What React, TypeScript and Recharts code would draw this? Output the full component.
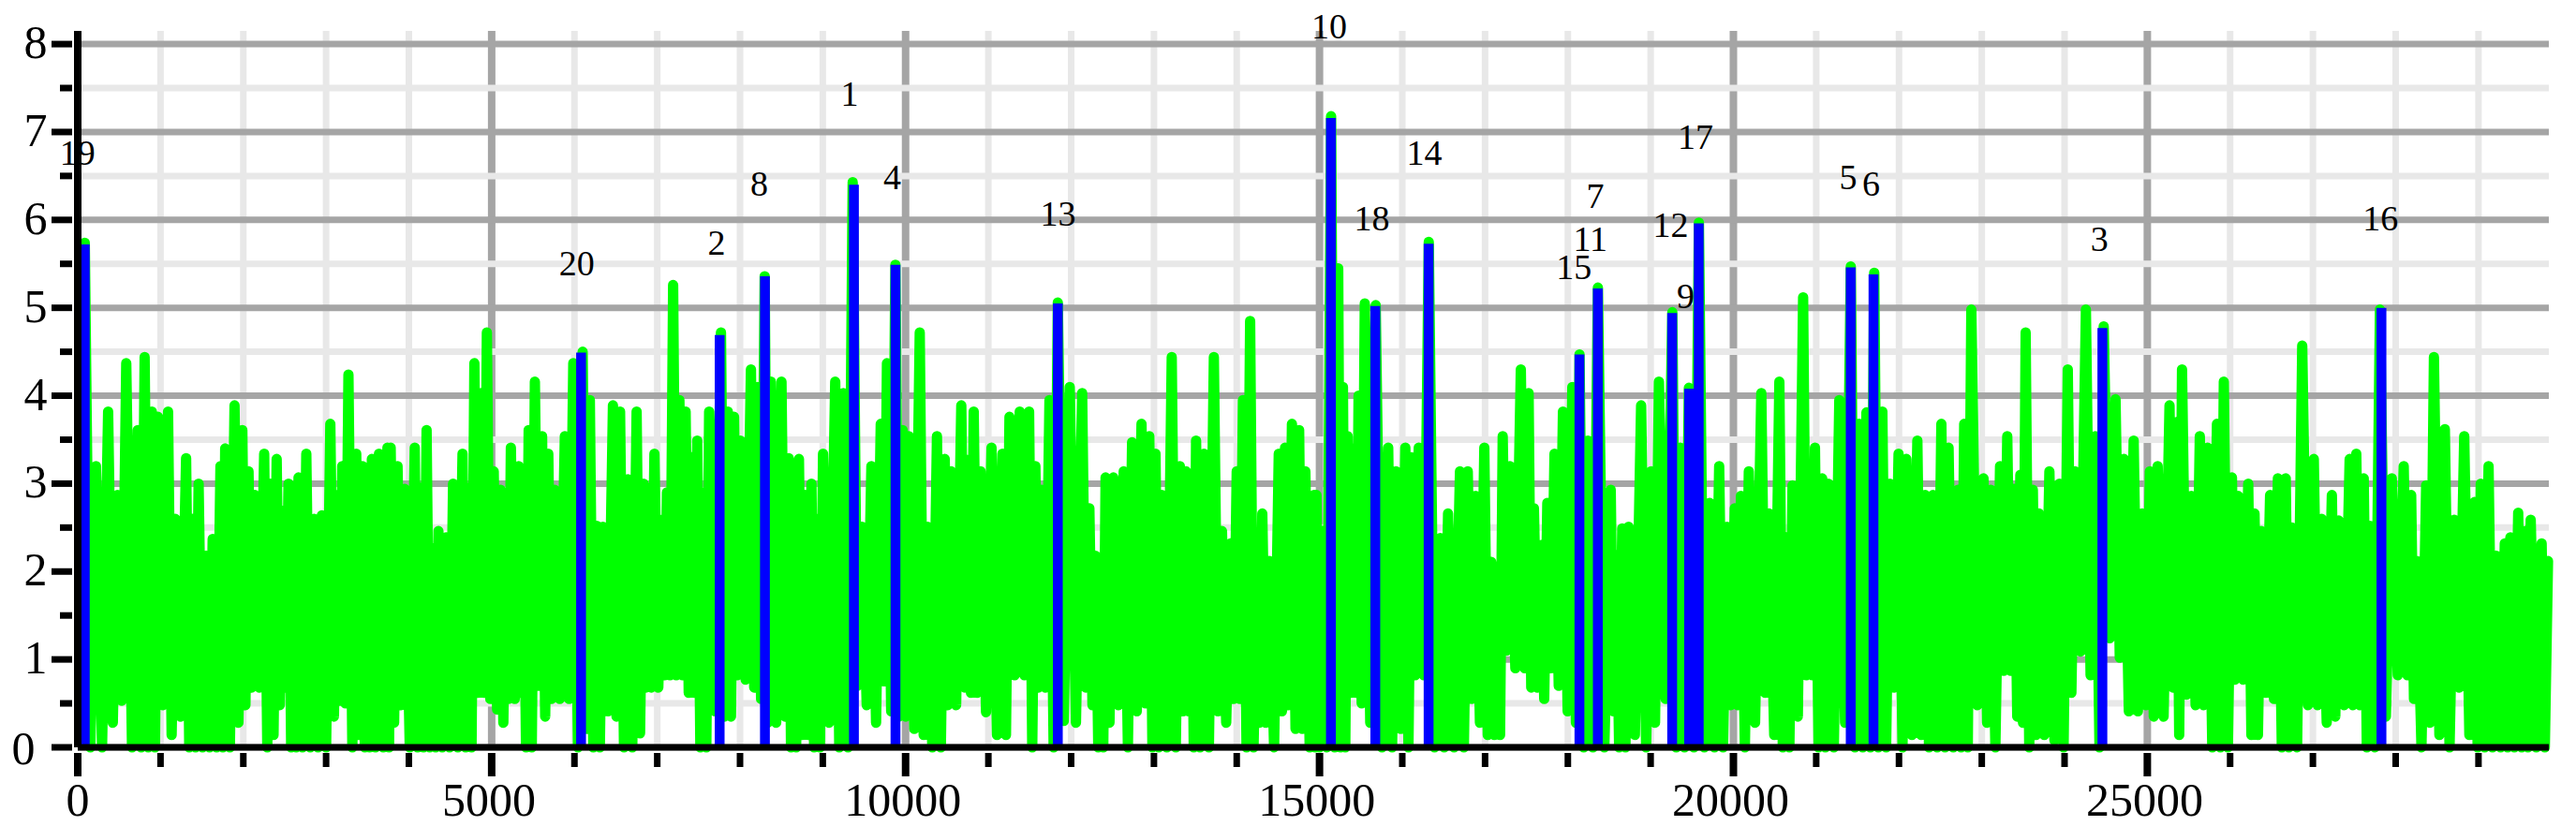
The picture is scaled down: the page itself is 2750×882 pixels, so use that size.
import { ComposedChart, CartesianGrid, Line, ReferenceDot, XAxis, YAxis } from 'recharts';

// green trace: each slot is a peak and the trough after it
const greenX = [
  85, 220, 367, 480, 586, 725, 808, 895, 970, 1091, 1177, 1309, 1385, 1460, 1554, 1630, 1724, 1781, 1894, 1988, 2063, 2139, 2252, 2327, 2403, 2478, 2546, 2610, 2667, 2761, 2855, 2949, 3051, 3138, 3195, 3270, 3364, 3440, 3496, 3553, 3639, 3741,
  3780, 3863, 3950, 4071, 4139, 4214, 4289, 4357, 4448, 4534, 4648, 4723, 4791, 4874, 4942, 5025, 5107, 5175, 5232, 5326, 5383, 5447, 5522, 5609, 5684, 5760, 5884, 5986, 6099, 6186, 6269, 6344, 6465, 6551, 6646, 6751, 6834, 6891, 6966, 7060, 7117, 7192, 7268, 7343, 7418,
  7483, 7559, 7627, 7770, 7853, 7928, 8004, 8132, 8211, 8298, 8373, 8501, 8588, 8644, 8712, 8788, 8863, 8927, 9003, 9150, 9248, 9361, 9474, 9587, 9700, 9775, 9877, 9964, 10039, 10171, 10266, 10379, 10473, 10548, 10673, 10756, 10823, 10906, 11038, 11170,
  11255, 11379, 11492, 11568, 11643, 11738, 11839, 11983, 12133, 12220, 12295, 12360, 12416, 12510, 12635, 12736, 12850, 12944, 13019, 13095, 13215, 13313, 13389, 13453, 13509, 13604, 13724, 13822, 13924, 14000, 14075, 14162, 14245, 14309, 14395, 14508, 14584, 14667, 14754, 14829, 14934,
  14963, 15038, 15140, 15226, 15283, 15340, 15415, 15472, 15547, 15679, 15830, 15924, 16037, 16112, 16199, 16320, 16459, 16553, 16697, 16791, 16885, 16991, 17074, 17149, 17213, 17300, 17432, 17526, 17590, 17677, 17752, 17839, 17941, 18054, 18141, 18242, 18363, 18518, 18582, 18657,
  18734, 18885, 19006, 19100, 19262, 19356, 19462, 19583, 19714, 19828, 19922, 20016, 20091, 20186, 20337, 20431, 20555, 20638, 20714, 20842, 20921, 20985, 21072, 21147, 21279, 21418, 21517, 21607, 21701, 21799, 21890, 21995, 22090, 22222, 22316, 22410,
  22512, 22599, 22712, 22788, 22874, 23021, 23108, 23221, 23308, 23391, 23466, 23530, 23617, 23693, 23817, 23938, 24039, 24126, 24258, 24371, 24473, 24616, 24718, 24835, 24937, 25031, 25125, 25268, 25351, 25419, 25532, 25634, 25728, 25841, 25924, 26022, 26098,
  26219, 26295, 26377, 26483, 26577, 26672, 26747, 26871, 27011, 27105, 27229, 27312, 27444, 27524, 27614, 27689, 27810, 27953, 28097, 28187, 28255, 28368, 28462, 28594, 28707, 28828, 28952, 29028, 29122, 29216, 29318, 29386, 29480, 29563, 29631, 29763, 29840,
];

const greenTop = [
  5.74, 3.2, 3.82, 2.87, 4.37, 3.61, 4.44, 3.82, 3.76, 3.82, 2.6, 3.29, 2.6, 3.0, 2.18, 2.37, 3.2, 3.4, 3.89, 3.61, 3.14, 2.87, 3.34, 3.0, 3.28, 2.69, 3.0, 2.59, 3.07, 3.34, 2.6, 2.64, 3.68, 2.87, 3.2, 4.24, 3.34, 3.2, 2.67, 3.28, 3.34, 3.41,
  3.41, 3.2, 2.94, 3.41, 2.95, 3.61, 2.26, 2.46, 2.39, 3.0, 3.34, 2.95, 4.37, 4.03, 4.72, 3.14, 2.93, 2.8, 3.41, 3.2, 2.8, 3.61, 4.16, 3.54, 3.34, 2.93, 3.54, 4.37, 4.5, 3.95, 2.52, 2.51, 3.89, 3.82, 3.05, 3.82, 3.0, 2.95, 3.34, 2.59, 2.9, 5.26, 3.95, 3.82, 3.3,
  3.49, 2.9, 3.82, 4.72, 3.82, 3.76, 3.49, 4.3, 4.1, 5.36, 4.16, 4.16, 3.29, 3.1, 3.28, 2.87, 3.0, 2.6, 3.34, 4.16, 4.03, 6.43, 2.51, 3.2, 3.68, 4.37, 5.49, 3.61, 3.54, 4.72, 2.51, 3.54, 3.28, 3.14, 3.89, 3.27, 3.82, 3.14, 3.41, 3.34,
  3.76, 3.82, 3.82, 3.2, 2.93, 3.95, 5.06, 4.1, 4.03, 2.72, 2.18, 1.92, 3.07, 3.07, 3.14, 3.47, 3.68, 3.54, 3.34, 2.87, 4.44, 3.2, 3.14, 2.6, 3.49, 3.34, 4.44, 2.46, 2.32, 3.14, 3.95, 4.85, 2.19, 2.66, 2.12, 3.34, 3.41, 3.68, 3.61, 3.14, 2.87,
  2.87, 2.46, 7.18, 5.45, 4.1, 3.54, 3.4, 4.0, 5.05, 5.03, 3.41, 3.14, 3.41, 3.3, 3.41, 5.75, 2.38, 2.66, 3.14, 3.14, 2.86, 3.41, 2.11, 2.05, 3.54, 3.2, 4.3, 4.03, 2.72, 2.3, 2.78, 3.34, 3.82, 4.1, 4.47, 3.49, 5.23, 2.93, 2.19, 2.49,
  2.51, 3.89, 3.14, 4.16, 4.95, 3.41, 4.09, 5.97, 2.78, 3.2, 2.51, 2.72, 2.86, 3.14, 4.03, 2.66, 4.16, 2.39, 2.98, 5.12, 3.2, 3.41, 3.06, 3.0, 3.95, 5.47, 3.68, 3.81, 5.4, 3.82, 3.0, 3.34, 3.28, 3.49, 2.87, 2.87,
  3.68, 3.41, 2.93, 3.68, 4.98, 3.06, 2.93, 3.2, 3.54, 2.94, 3.1, 4.72, 2.93, 2.66, 3.14, 3.0, 4.3, 3.14, 4.98, 3.54, 4.79, 3.96, 3.28, 3.49, 2.66, 3.14, 3.2, 3.89, 3.7, 4.3, 2.86, 3.54, 3.41, 3.68, 4.16, 3.07, 2.86,
  3.0, 2.66, 2.46, 2.87, 3.06, 3.06, 2.5, 4.57, 3.28, 2.6, 2.87, 2.58, 3.28, 3.34, 3.06, 2.52, 4.98, 3.06, 3.2, 2.87, 2.12, 2.98, 4.44, 3.62, 2.59, 3.54, 2.79, 3.0, 3.2, 2.18, 2.32, 2.39, 2.67, 2.46, 2.59, 2.32, 2.12,
];

const greenLow = [
  0, 0, 0.28, 0.53, 0, 0, 0, 0, 0.48, 0.14, 0.35, 0, 0, 0, 0, 0, 0, 0, 0.28, 0.48, 0.68, 0.68, 0, 0.14, 0.48, 0.68, 0, 0, 0, 0, 0, 0, 0.35, 0.53, 0.5, 0, 0.14, 0, 0, 0, 0, 0,
  0.28, 0.48, 0, 0, 0, 0, 0, 0, 0, 0, 0, 0, 0.62, 0.62, 0.55, 0.43, 0.28, 0.55, 0.55, 0.62, 0, 0, 0.7, 0.35, 0.55, 0.55, 0.55, 0, 0.21, 0, 0, 0.41, 0.35, 0, 0, 0.16, 0.68, 0.68, 0.68, 0.82, 0.82, 0.82, 0.82, 0.62, 0.62,
  0, 0, 0.41, 0.35, 0.35, 0.82, 0.77, 0.68, 0.55, 0.28, 0.28, 0.35, 0, 0, 0.14, 0.14, 0, 0, 0.28, 0, 0, 0.7, 0.48, 0.28, 0.75, 0.41, 0.35, 0.35, 0.21, 0.14, 0, 0, 0.48, 0.48, 0.68, 0.62, 0.62, 0.4, 0.14, 0.14,
  0.82, 0.82, 0, 0.68, 0.68, 0, 0.3, 0.28, 0.68, 0.48, 0, 0, 0.28, 0.48, 0, 0.41, 0.5, 0, 0, 0, 0, 0.41, 0.41, 0, 0, 0, 0.41, 0.28, 0.55, 0.55, 0, 0, 0.28, 0.28, 0, 0.41, 0.48, 0.21, 0.21, 0, 0,
  0, 0, 0, 0, 0, 0.62, 0.62, 0.5, 0.28, 0, 0, 0.21, 0, 0.82, 0.82, 0, 0, 0, 0, 0.55, 0.28, 0.14, 0.14, 0.14, 1.1, 0.9, 0.9, 0.68, 0.68, 0.55, 0.9, 0.7, 0.41, 0.28, 0, 0, 0, 0.41, 0, 0,
  0.14, 0, 0.28, 0.55, 0, 0, 0, 0, 0, 0, 0.48, 0.48, 0, 0.28, 0.62, 0.14, 0, 0, 0.35, 0.82, 0.82, 0, 0, 0, 0.28, 0, 0, 0, 0, 0, 0.68, 0, 0.14, 0.14, 0, 0,
  0, 0, 0, 0, 0.48, 0.28, 0, 0.87, 0.87, 0.35, 0.28, 0, 0.14, 0.14, 0.08, 0, 0.62, 1.09, 0.82, 0, 1.24, 1.02, 0.41, 0.41, 0.48, 0.35, 0.35, 0.68, 0.14, 0.6, 0.48, 0.48, 0, 0, 0, 0.77, 0.77,
  0.14, 0.14, 0.62, 0.55, 0, 0, 0, 0.48, 0.48, 0.28, 0.35, 0.48, 0.48, 0.48, 0, 0, 0.35, 0.82, 0.82, 0.55, 0, 0.28, 0.14, 0, 0.68, 0.14, 0, 0, 0, 0, 0, 0, 0, 0, 0, 0, 0,
];

// blue marks
const blueX = [85, 6080, 7754, 8301, 9376, 9878, 11839, 15138, 15674, 16318, 18140, 18362, 19260, 19465, 19581, 21417, 21692, 24457, 27828];
const blueTop = [5.72, 4.49, 4.69, 5.36, 6.4, 5.49, 5.05, 7.16, 5.02, 5.73, 4.47, 5.22, 4.94, 4.08, 5.96, 5.46, 5.38, 4.77, 5.0];

// number labels
const labelText = ['19', '20', '2', '8', '1', '4', '13', '10', '18', '14', '7', '11', '15', '9', '12', '17', '5', '6', '3', '16'];
const labelX = [-2, 6029, 7716, 8232, 9323, 9839, 11842, 15116, 15632, 16267, 18330, 18271, 18073, 19422, 19243, 19541, 21386, 21664, 24422, 27815];
const labelY = [6.77, 5.51, 5.74, 6.41, 7.44, 6.49, 6.07, 8.2, 6.02, 6.77, 6.28, 5.79, 5.46, 5.14, 5.94, 6.95, 6.49, 6.41, 5.79, 6.02];

const xMajor = [0, 5000, 10000, 15000, 20000, 25000];
const xMinor = [1000, 2000, 3000, 4000, 6000, 7000, 8000, 9000, 11000, 12000, 13000, 14000, 16000, 17000, 18000, 19000, 21000, 22000, 23000, 24000, 26000, 27000, 28000, 29000];
const yMajor = [0, 1, 2, 3, 4, 5, 6, 7, 8];
const yMinor = [0.5, 1.5, 2.5, 3.5, 4.5, 5.5, 6.5, 7.5];

const FONT = '"Liberation Serif", "Times New Roman", serif';
const GRID_DARK = '#a5a5a5';
const GRID_LIGHT = '#e8e8e8';

const greenRows: Array<{ x: number; y: number }> = [];
greenX.forEach((x, i) => {
  greenRows.push({ x, y: greenTop[i] });
  if (i < greenX.length - 1) {
    greenRows.push({ x: (x + greenX[i + 1]) / 2, y: greenLow[i] });
  }
});

// a null after each mark keeps the line from running along the baseline
const blueRows = blueX.flatMap((x, i) => [
  { x, y: 0 },
  { x, y: blueTop[i] },
  { x, y: null },
]);

function XTick({ x, y, payload }: any) {
  const major = payload.value % 5000 === 0;
  return (
    <g>
      <line x1={x} x2={x} y1={y - 2} y2={y + (major ? 23 : 13)} stroke="#000" strokeWidth={major ? 8 : 7} />
      {major && (
        <text x={payload.value === 0 ? x : x - 3} y={871} textAnchor="middle" fontFamily={FONT} fontSize={50} fill="#000">
          {payload.value}
        </text>
      )}
    </g>
  );
}

function YTick({ x, y, payload }: any) {
  const major = Number.isInteger(payload.value);
  const isZero = payload.value === 0;
  return (
    <g>
      <line x1={x + 2} x2={x - (major ? 20 : 11)} y1={y} y2={y} stroke="#000" strokeWidth={7} />
      {major && (
        <text x={isZero ? 25 : 38} y={y + (isZero ? 18 : 15)} textAnchor="middle" fontFamily={FONT} fontSize={50} fill="#000">
          {payload.value}
        </text>
      )}
    </g>
  );
}

export default function App() {
  return (
    <div style={{ position: 'absolute', left: 0, top: 0 }}>
      <ComposedChart width={2750} height={882} margin={{ top: 33, right: 29, left: 0, bottom: 0 }}>
        <CartesianGrid horizontal={false} verticalValues={xMajor} stroke={GRID_DARK} strokeWidth={8} />
        <CartesianGrid horizontal={false} verticalValues={xMinor} stroke={GRID_LIGHT} strokeWidth={7} />
        <CartesianGrid vertical={false} horizontalValues={yMinor} stroke={GRID_LIGHT} strokeWidth={7} />
        <CartesianGrid vertical={false} horizontalValues={yMajor} stroke={GRID_DARK} strokeWidth={7} />
        <Line
          data={greenRows}
          dataKey="y"
          stroke="#00ff00"
          strokeWidth={11}
          strokeLinejoin="round"
          strokeLinecap="round"
          dot={false}
          activeDot={false}
          isAnimationActive={false}
        />
        <Line
          data={blueRows}
          dataKey="y"
          stroke="#0000ff"
          strokeWidth={10.5}
          strokeLinecap="butt"
          dot={false}
          activeDot={false}
          connectNulls={false}
          isAnimationActive={false}
        />
        <XAxis
          dataKey="x"
          type="number"
          domain={[0, 29850]}
          ticks={[...xMajor, ...xMinor].sort((a, b) => a - b)}
          interval={0}
          height={84}
          axisLine={{ stroke: '#000', strokeWidth: 7 }}
          tickLine={false}
          tick={<XTick />}
        />
        <YAxis
          type="number"
          domain={[0, 8.15]}
          ticks={[...yMajor, ...yMinor].sort((a, b) => a - b)}
          interval={0}
          width={83}
          axisLine={{ stroke: '#000', strokeWidth: 8 }}
          tickLine={false}
          tick={<YTick />}
        />
        {labelText.map((text, i) => (
          <ReferenceDot
            key={text}
            x={labelX[i]}
            y={labelY[i]}
            ifOverflow="visible"
            shape={({ cx, cy }: any) => (
              <text x={cx} y={cy + 13} textAnchor="middle" fontFamily={FONT} fontSize={38} fill="#000">
                {text}
              </text>
            )}
          />
        ))}
      </ComposedChart>
    </div>
  );
}
